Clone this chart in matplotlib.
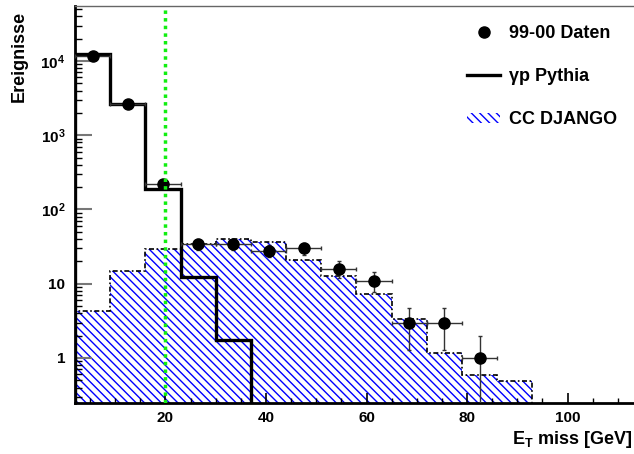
import numpy as np
import matplotlib
matplotlib.use('Agg')
import matplotlib.pyplot as plt
from matplotlib.lines import Line2D
from matplotlib.patches import Patch
from matplotlib.ticker import FixedLocator, FixedFormatter, MultipleLocator, LogLocator, NullFormatter

# fonts: bold helvetica-like look
plt.rcParams['font.family'] = ['Liberation Sans', 'DejaVu Sans']
plt.rcParams['font.weight'] = 'bold'
plt.rcParams['mathtext.fontset'] = 'custom'
plt.rcParams['mathtext.rm'] = 'Liberation Sans:bold'
plt.rcParams['mathtext.bf'] = 'Liberation Sans:bold'
plt.rcParams['hatch.linewidth'] = 1.0

#### data
bin_edges = [2, 9, 16, 23, 30, 37, 44, 51, 58, 65, 72, 79, 86, 93]
pythia = [12300, 2630, 190, 12.2, 1.75, 0, 0, 0, 0, 0, 0, 0, 0]
django = [4.3, 15.0, 29, 34, 40, 36, 20.8, 12.7, 7.3, 3.35, 1.16, 0.585, 0.49]
data_x = [5.5, 12.5, 19.5, 26.5, 33.5, 40.5, 47.5, 54.5, 61.5, 68.5, 75.5, 82.5]
data_y = [11800, 2600, 220, 34, 34, 28, 30, 16, 11, 3, 3, 1]
cut_at = 20

ytick_vals = [1, 10, 100, 1000, 10000]
ytick_labels = ['1', '10', r'$\mathbf{10^{2}}$', r'$\mathbf{10^{3}}$', r'$\mathbf{10^{4}}$']
legend_labels = ['99-00 Daten', u'\u03b3p Pythia', 'CC DJANGO']

fig = plt.figure(figsize=(6.34, 4.54), dpi=100)
ax = fig.add_axes([75/634, 1 - 402.7/454, 568/634, 396.7/454])
ax.set_yscale('log')

# CC DJANGO: blue hatch + dash-dot outline
edges = np.array(bin_edges)
ax.bar(edges[:-1], django, width=np.diff(edges), align='edge', bottom=1e-3,
       fill=False, hatch='\\\\\\\\', edgecolor='blue', linewidth=0, zorder=1)
ax.stairs(django, edges, baseline=1e-3, color='black', lw=1.2,
          linestyle=(0, (3, 1.5, 1, 1.5)), zorder=2)

# gamma-p Pythia
ax.stairs(pythia, edges, baseline=1e-3, color='black', lw=2.4, zorder=3)

# data points with sqrt(N) errors
dx = np.array(data_x)
dy = np.array(data_y, dtype=float)
ax.errorbar(dx, dy, xerr=3.5, yerr=np.sqrt(dy), fmt='o', color='black',
            ecolor='#333333', elinewidth=1.0, capsize=1.5, capthick=1.0,
            markersize=8, zorder=4)

# cut line
ax.axvline(cut_at, color='#11ee11', lw=2.5, linestyle=(0, (1.0, 1.2)), zorder=5)

ax.set_xlim(2, 115)
ax.set_ylim(0.25, 5.5e4)

# ticks, ROOT-like
ax.xaxis.set_major_locator(FixedLocator([20, 40, 60, 80, 100]))
ax.xaxis.set_minor_locator(MultipleLocator(5))
ax.yaxis.set_major_locator(FixedLocator(ytick_vals))
ax.yaxis.set_major_formatter(FixedFormatter(ytick_labels))
ax.yaxis.set_minor_locator(LogLocator(base=10, subs=np.arange(2, 10)))
ax.yaxis.set_minor_formatter(NullFormatter())
ax.tick_params(axis='x', which='major', direction='in', length=7, width=1.2, labelsize=11, pad=6)
ax.tick_params(axis='x', which='minor', direction='in', length=3.6, width=1.0)
ax.tick_params(axis='y', which='major', direction='in', length=12, width=1.5, color='#777777',
               labelsize=11, pad=7)
ax.tick_params(axis='y', which='minor', direction='in', length=5, width=1.0)
ax.tick_params(top=False, right=False)

ax.spines['left'].set_linewidth(2.0)
ax.spines['bottom'].set_linewidth(2.0)
ax.spines['top'].set_linewidth(1.0)
ax.spines['top'].set_color('#666666')

ax.set_xlabel(r'E$_\mathbf{T}$ miss [GeV]', fontsize=13, fontweight='bold', ha='right', va='center')
ax.xaxis.set_label_coords((632 - 75)/568, (402.7 - 440)/396.7)
ax.set_ylabel('Ereignisse', fontsize=13, fontweight='bold', ha='center', va='center')
ax.yaxis.set_label_coords((19.5 - 75)/568, (402.7 - 56)/396.7)

handles = [Line2D([], [], marker='o', color='black', linestyle='none', markersize=8),
           Line2D([], [], color='black', lw=2.4),
           Patch(facecolor='none', edgecolor='blue', hatch='\\\\\\\\', linewidth=0)]
ax.legend(handles, legend_labels, loc='upper left', bbox_to_anchor=(467/634, 1 - 25/454),
          bbox_transform=fig.transFigure, frameon=False, fontsize=13, borderpad=0,
          borderaxespad=0, handlelength=1.85, handletextpad=0.45, labelspacing=1.45,
          handleheight=0.5)

fig.savefig('out.png', dpi=100)
